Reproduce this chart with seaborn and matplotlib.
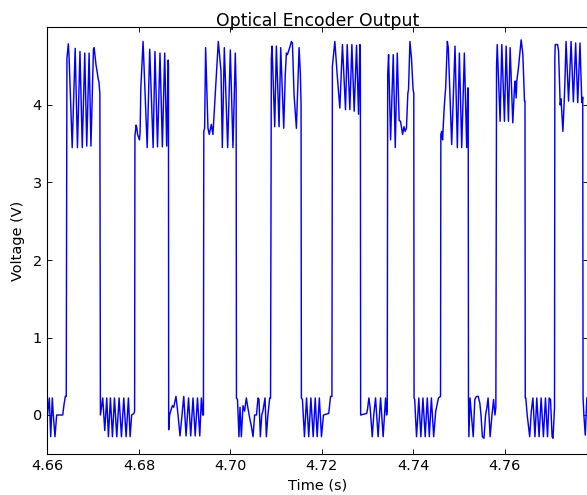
import matplotlib
matplotlib.use("Agg")
import matplotlib.pyplot as plt
import seaborn as sns
import pandas as pd

# ---- data (time in seconds, voltage in volts) ----
time_s = [
    # low 0
    4.66000, 4.66040, 4.66070, 4.66105, 4.66127, 4.66164, 4.66200, 4.66333, 4.66360, 4.66390, 4.66410,
    # high 0
    4.66425, 4.66455, 4.66470, 4.66540, 4.66605, 4.66655, 4.66710, 4.66760, 4.66815, 4.66858,
    4.66910, 4.66950, 4.67005, 4.67020, 4.67060, 4.67080, 4.67110, 4.67125, 4.67145,
    # low 1
    4.67157, 4.67208, 4.67252, 4.67296, 4.67332, 4.67376, 4.67420, 4.67464, 4.67515, 4.67566,
    4.67617, 4.67668, 4.67719, 4.67770, 4.67807, 4.67840, 4.67890, 4.67905,
    # high 1
    4.67912, 4.67938, 4.67955, 4.67970, 4.68012, 4.68025, 4.68041, 4.68090, 4.68180, 4.68235,
    4.68310, 4.68350, 4.68406, 4.68460, 4.68512, 4.68563, 4.68607, 4.68640, 4.68645,
    # low 2
    4.68650, 4.68670, 4.68730, 4.68760, 4.68810, 4.68855, 4.68898, 4.68980, 4.69030, 4.69085,
    4.69132, 4.69182, 4.69230, 4.69280, 4.69330, 4.69365, 4.69395, 4.69410,
    # high 2
    4.69418, 4.69436, 4.69458, 4.69509, 4.69538, 4.69582, 4.69618, 4.69645, 4.69670, 4.69735,
    4.69794, 4.69823, 4.69867, 4.69940, 4.69998, 4.70056, 4.70107, 4.70125,
    # low 3
    4.70132, 4.70155, 4.70187, 4.70210, 4.70239, 4.70275, 4.70310, 4.70348, 4.70380, 4.70425,
    4.70460, 4.70494, 4.70530, 4.70570, 4.70604, 4.70625, 4.70655, 4.70685, 4.70710, 4.70757,
    4.70786, 4.70820, 4.70860, 4.70878,
    # high 3
    4.70895, 4.70910, 4.70969, 4.71005, 4.71064, 4.71100, 4.71166, 4.71200, 4.71224, 4.71246,
    4.71297, 4.71334, 4.71356, 4.71392, 4.71443, 4.71502, 4.71530, 4.71545,
    # low 4
    4.71552, 4.71575, 4.71619, 4.71665, 4.71713, 4.71760, 4.71810, 4.71855, 4.71897, 4.71945,
    4.71991, 4.72035, 4.72150, 4.72190, 4.72220,
    # high 4
    4.72230, 4.72284, 4.72335, 4.72393, 4.72450, 4.72517, 4.72554, 4.72612, 4.72656, 4.72707,
    4.72758, 4.72802, 4.72831, 4.72842,
    # low 5
    4.72848, 4.72980, 4.73000, 4.73028, 4.73055, 4.73102, 4.73135, 4.73174, 4.73230, 4.73284,
    4.73340, 4.73393, 4.73415, 4.73430,
    # high 5
    4.73440, 4.73459, 4.73503, 4.73561, 4.73605, 4.73649, 4.73690, 4.73720, 4.73766, 4.73795,
    4.73820, 4.73850, 4.73880, 4.73895, 4.73926, 4.73960, 4.73995, 4.74010,
    # low 6
    4.74016, 4.74030, 4.74070, 4.74100, 4.74120, 4.74165, 4.74210, 4.74260, 4.74305, 4.74350,
    4.74395, 4.74445, 4.74490, 4.74550, 4.74595,
    # high 6
    4.74602, 4.74620, 4.74640, 4.74671, 4.74685, 4.74707, 4.74744, 4.74765, 4.74839, 4.74912,
    4.74963, 4.75007, 4.75058, 4.75116, 4.75167, 4.75190, 4.75200,
    # low 7
    4.75206, 4.75215, 4.75240, 4.75270, 4.75310, 4.75345, 4.75380, 4.75420, 4.75455, 4.75480,
    4.75510, 4.75545, 4.75580, 4.75610, 4.75635, 4.75680, 4.75720, 4.75755, 4.75785, 4.75805,
    # high 7
    4.75820, 4.75835, 4.75898, 4.75935, 4.75993, 4.76030, 4.76080, 4.76117, 4.76175, 4.76210,
    4.76227, 4.76249, 4.76263, 4.76299, 4.76358, 4.76395, 4.76431, 4.76442,
    # low 8
    4.76448, 4.76460, 4.76490, 4.76545, 4.76580, 4.76615, 4.76660, 4.76700, 4.76750, 4.76795,
    4.76845, 4.76890, 4.76935, 4.76970, 4.77000, 4.77035, 4.77055, 4.77080, 4.77088,
    # high 8
    4.77095, 4.77103, 4.77154, 4.77176, 4.77212, 4.77230, 4.77271, 4.77300, 4.77315, 4.77340,
    4.77395, 4.77450, 4.77500, 4.77550, 4.77595, 4.77645, 4.77685, 4.77705,
    # low 9
    4.77712, 4.77730, 4.77760, 4.77780, 4.77795,
]

voltage_v = [
    # low 0
    0.00, 0.22, -0.28, 0.22, 0.00, -0.28, 0.00, 0.00, 0.13, 0.24, 0.24,
    # high 0
    4.60, 4.79, 4.65, 3.45, 4.73, 3.45, 4.69, 3.45, 4.67, 3.47,
    4.67, 3.47, 4.72, 4.74, 4.52, 4.45, 4.33, 4.30, 4.15,
    # low 1
    0.00, 0.22, -0.20, 0.22, -0.28, 0.22, -0.28, 0.22, -0.28, 0.22,
    -0.28, 0.22, -0.28, 0.22, -0.28, 0.00, 0.02, 0.05,
    # high 1
    3.60, 3.74, 3.70, 3.62, 3.55, 3.65, 4.22, 4.82, 3.45, 4.72,
    3.45, 4.69, 3.46, 4.67, 3.46, 4.67, 3.47, 4.58, 4.50,
    # low 2
    -0.19, 0.00, 0.12, 0.10, 0.24, 0.00, -0.27, 0.24, -0.27, 0.22,
    -0.27, 0.22, -0.27, 0.22, -0.27, 0.22, 0.00, 0.00,
    # high 2
    3.66, 3.70, 4.74, 3.70, 3.62, 3.75, 3.62, 3.90, 4.18, 4.82,
    4.44, 3.45, 4.74, 3.45, 4.71, 3.45, 4.67, 4.20,
    # low 3
    0.22, 0.20, -0.28, 0.10, -0.28, 0.12, 0.05, 0.22, 0.10, -0.05,
    -0.15, -0.28, 0.00, 0.00, 0.22, 0.20, -0.28, 0.00, 0.05, 0.22,
    -0.28, 0.00, 0.22, 0.22,
    # high 3
    4.60, 4.76, 3.72, 4.76, 3.72, 4.74, 3.70, 4.40, 4.67, 4.65,
    4.74, 4.82, 4.80, 4.13, 3.70, 4.74, 4.40, 4.00,
    # low 4
    0.22, 0.20, -0.28, 0.22, -0.28, 0.22, -0.28, 0.22, -0.28, 0.22,
    -0.28, 0.00, 0.02, 0.24, 0.24,
    # high 4
    4.50, 4.82, 4.39, 3.96, 4.78, 3.94, 4.78, 3.94, 4.78, 3.92,
    4.77, 3.88, 4.78, 4.50,
    # low 5
    0.00, 0.02, 0.08, 0.22, 0.10, -0.28, 0.00, 0.22, -0.28, 0.22,
    -0.28, 0.22, 0.00, 0.05,
    # high 5
    4.40, 4.65, 3.55, 4.65, 3.45, 4.67, 3.80, 3.79, 3.62, 3.72,
    3.66, 3.70, 4.15, 4.20, 4.82, 4.60, 4.20, 4.15,
    # low 6
    0.22, 0.20, -0.28, 0.00, 0.22, -0.28, 0.22, -0.28, 0.22, -0.28,
    0.22, -0.28, 0.05, 0.22, 0.24,
    # high 6
    3.62, 3.66, 3.55, 3.92, 4.05, 4.22, 4.82, 4.74, 3.49, 4.76,
    3.45, 4.67, 3.45, 4.67, 3.45, 4.22, 4.22,
    # low 7
    0.22, -0.28, 0.22, 0.00, -0.28, 0.20, 0.24, 0.24, 0.15, 0.00,
    -0.28, -0.30, 0.00, 0.10, 0.22, -0.28, 0.00, 0.20, 0.00, 0.10,
    # high 7
    4.50, 4.78, 3.79, 4.78, 3.79, 4.76, 3.79, 4.74, 3.77, 4.20,
    4.31, 4.09, 4.31, 4.48, 4.84, 4.66, 4.05, 4.05,
    # low 8
    0.22, 0.22, 0.00, -0.28, 0.05, 0.22, -0.28, 0.22, -0.28, 0.22,
    -0.28, 0.22, -0.28, 0.22, 0.20, -0.28, -0.30, 0.00, 0.10,
    # high 8
    4.60, 4.78, 4.78, 4.70, 4.00, 4.08, 3.66, 4.05, 4.30, 4.82,
    4.05, 4.82, 4.04, 4.80, 4.03, 4.80, 4.03, 4.10,
    # low 9
    0.22, 0.00, -0.26, 0.00, 0.22,
]

x_ticks = [4.66, 4.68, 4.70, 4.72, 4.74, 4.76]
x_tick_labels = ["4.66", "4.68", "4.70", "4.72", "4.74", "4.76"]
y_ticks = [0, 1, 2, 3, 4]
y_tick_labels = ["0", "1", "2", "3", "4"]

df = pd.DataFrame({"Time (s)": time_s, "Voltage (V)": voltage_v})

plt.rcParams["font.family"] = ["DejaVu Sans"]

W, H, DPI = 587, 495, 80
fig = plt.figure(figsize=(W / DPI, H / DPI), dpi=DPI, facecolor="white")
ax = fig.add_axes([47.5 / W, (H - 453.75) / H, (588.0 - 47.5) / W, 426.25 / H])

sns.lineplot(data=df, x="Time (s)", y="Voltage (V)", estimator=None, sort=False,
             color="#0000ff", linewidth=1.3, ax=ax)

ax.set_xlim(4.66, 4.7782)
ax.set_ylim(-0.5, 5.0)
ax.set_xticks(x_ticks)
ax.set_xticklabels(x_tick_labels)
ax.set_yticks(y_ticks)
ax.set_yticklabels(y_tick_labels)
ax.tick_params(direction="in", top=True, right=True, length=4.5, width=0.8,
               labelsize=13, pad=5, color="black")
for s in ax.spines.values():
    s.set_color("black")
    s.set_linewidth(1.0)

ax.set_xlabel("Time (s)", fontsize=13, labelpad=5)
ax.set_ylabel("Voltage (V)", fontsize=13, labelpad=7)
ax.set_title("Optical Encoder Output", fontsize=15.5, pad=1)

fig.savefig("out.png", dpi=DPI, facecolor="white")
